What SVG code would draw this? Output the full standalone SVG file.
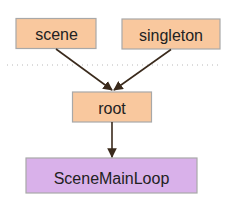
<svg xmlns="http://www.w3.org/2000/svg" width="230" height="200" viewBox="0 0 230 200">
<style>
.n{fill:#f9c89e;stroke:#a8a8a8;stroke-width:1.2}
.p{fill:#d9b1ea;stroke:#a8a8a8;stroke-width:1.2}
text{font-family:"Liberation Sans",Arial,sans-serif;font-size:16px;fill:#222;text-anchor:middle}
.e{stroke:#3a2a1c;stroke-width:1.6;fill:none}
</style>
<defs>
<marker id="a" viewBox="0 0 10 10" refX="9" refY="5" markerWidth="6" markerHeight="6" orient="auto" markerUnits="strokeWidth">
<path d="M0,0 L10,5 L0,10 z" fill="#3a2a1c"/>
</marker>
</defs>
<rect x="0" y="0" width="230" height="200" fill="#fff"/>
<line x1="7" y1="65" x2="222" y2="65" stroke="#b8b8b8" stroke-width="1" stroke-dasharray="1,4"/>
<g id="scene"><rect class="n" x="16" y="18.5" width="80" height="30"/><text x="56.5" y="40">scene</text></g>
<g id="singleton"><rect class="n" x="122" y="19" width="98" height="30"/><text x="171" y="40.5">singleton</text></g>
<g id="root"><rect class="n" x="72.5" y="92" width="79" height="30"/><text x="112" y="113.5">root</text></g>
<g id="SceneMainLoop"><rect class="p" x="26" y="158" width="171" height="35"/><text x="111.5" y="184">SceneMainLoop</text></g>
<g id="edges">
<line class="e" x1="56" y1="49" x2="112" y2="90" marker-end="url(#a)"/>
<line class="e" x1="171" y1="49.5" x2="114" y2="90" marker-end="url(#a)"/>
<line class="e" x1="112" y1="122" x2="112" y2="157" marker-end="url(#a)"/>
</g>
</svg>
